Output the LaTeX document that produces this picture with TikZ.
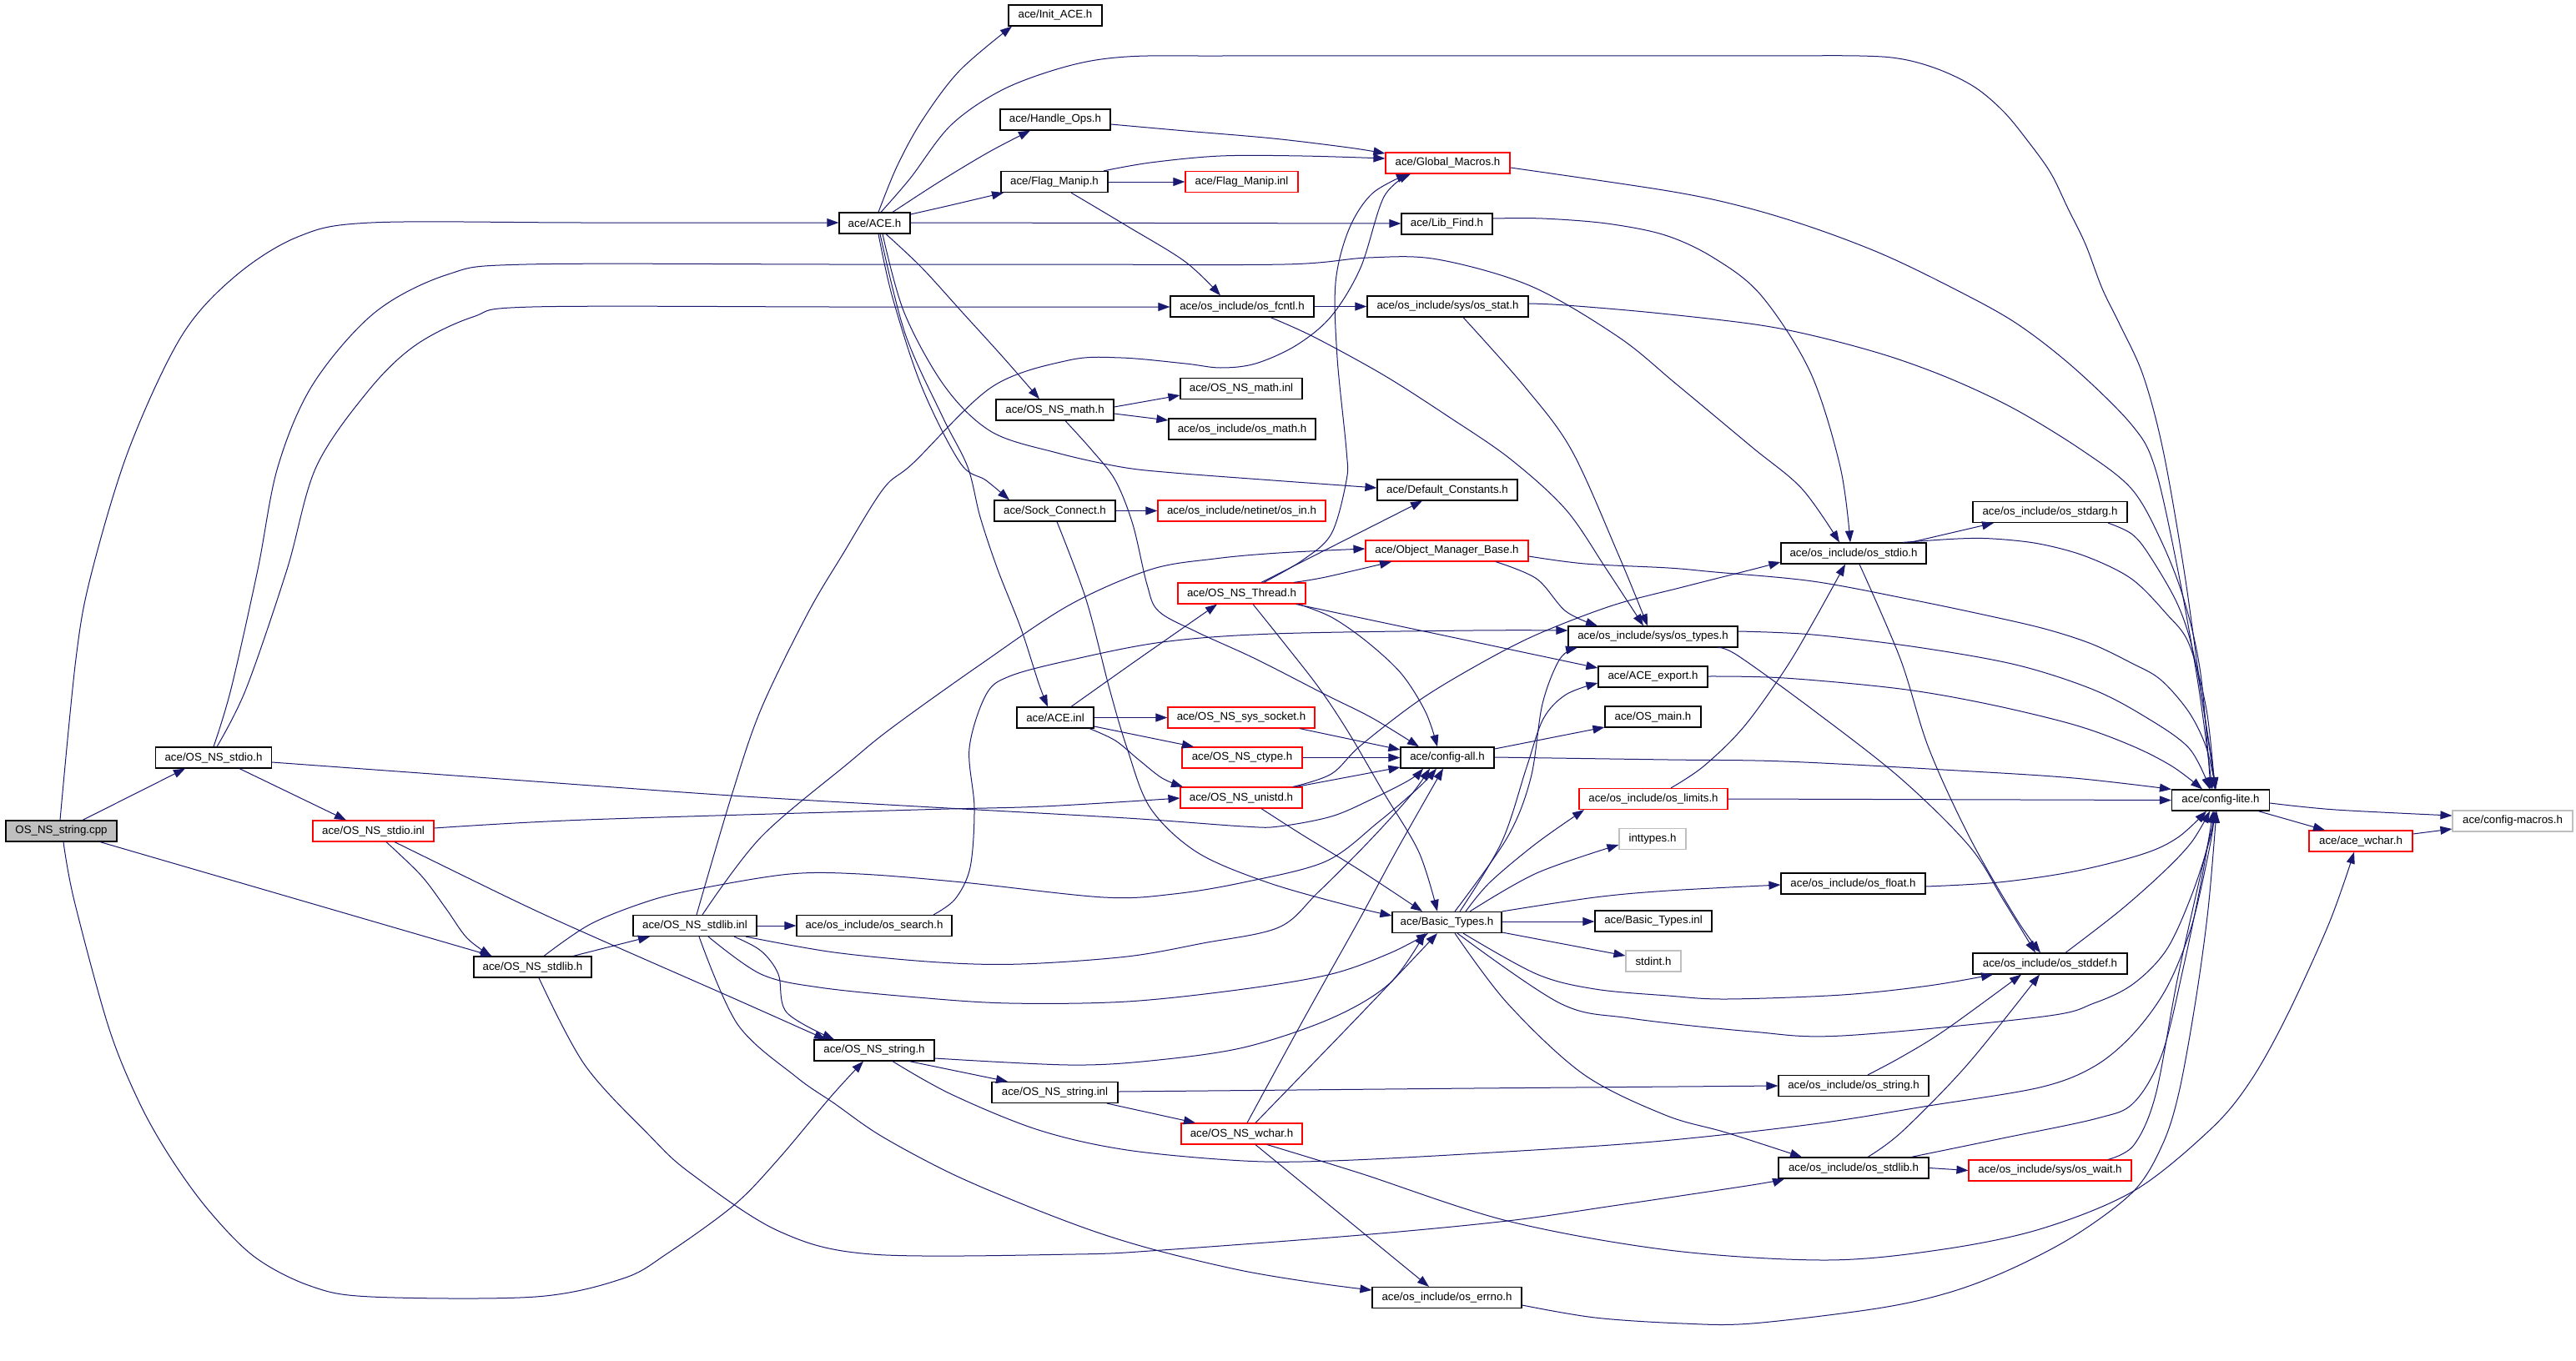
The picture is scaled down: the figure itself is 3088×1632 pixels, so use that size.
\documentclass[tikz,border=0pt]{standalone}
\usepackage{fontspec}
\setmainfont{Liberation Sans}
\usetikzlibrary{arrows.meta}
\definecolor{edgec}{RGB}{25,25,112}
\definecolor{grayb}{RGB}{191,191,191}
\begin{document}
\begin{tikzpicture}[x=0.5pt,y=-0.5pt,
  box/.style={draw=black, line width=0.6pt, inner sep=0pt, minimum height=12.5pt, font=\fontsize{6.65pt}{8pt}\selectfont},
  redbox/.style={box, draw=red},
  graybox/.style={box, draw=grayb},
  filebox/.style={box, fill=grayb},
  dep/.style={draw=edgec, line width=0.5pt, -{Triangle[length=7pt,width=5pt]}},
  sm/.style={smooth, tension=0.55}]
\fill[white] (0,0) rectangle (3088,1632);
\useasboundingbox (0,0) rectangle (3088,1632);
% ---------------- nodes ----------------
\node[filebox, minimum width=66.5pt] (cpp) at (73.5,996.5) {OS\_NS\_string.cpp};
\node[box, minimum width=69.5pt] (stdioh) at (256,908.5) {ace/OS\_NS\_stdio.h};
\node[redbox, minimum width=72.5pt] (stdioinl) at (447.5,996.5) {ace/OS\_NS\_stdio.inl};
\node[box, minimum width=70.5pt] (stdlibh) at (638.5,1159.5) {ace/OS\_NS\_stdlib.h};
\node[box, minimum width=74pt] (stdlibinl) at (833,1110) {ace/OS\_NS\_stdlib.inl};
\node[box, minimum width=42.5pt] (ace) at (1048.5,267.5) {ace/ACE.h};
\node[box, minimum width=93pt] (search) at (1048,1110) {ace/os\_include/os\_search.h};
\node[box, minimum width=72pt] (stringh) at (1048,1259.5) {ace/OS\_NS\_string.h};
\node[box, minimum width=56pt] (initace) at (1265,18.5) {ace/Init\_ACE.h};
\node[box, minimum width=66pt] (handle) at (1265,143.5) {ace/Handle\_Ops.h};
\node[box, minimum width=64pt] (flag) at (1264,218) {ace/Flag\_Manip.h};
\node[box, minimum width=70.5pt] (mathh) at (1264.5,491.5) {ace/OS\_NS\_math.h};
\node[box, minimum width=72.5pt] (sock) at (1264.5,612.5) {ace/Sock\_Connect.h};
\node[box, minimum width=46pt] (aceinl) at (1265,860.5) {ace/ACE.inl};
\node[box, minimum width=75.5pt] (stringinl) at (1264.5,1310) {ace/OS\_NS\_string.inl};
\node[redbox, minimum width=67.5pt] (flaginl) at (1488.5,218) {ace/Flag\_Manip.inl};
\node[box, minimum width=86pt] (fcntl) at (1489,367.5) {ace/os\_include/os\_fcntl.h};
\node[box, minimum width=73pt] (mathinl) at (1488,466) {ace/OS\_NS\_math.inl};
\node[box, minimum width=88pt] (osmath) at (1489,514.5) {ace/os\_include/os\_math.h};
\node[redbox, minimum width=100.5pt] (osin) at (1488.5,612.5) {ace/os\_include/netinet/os\_in.h};
\node[redbox, minimum width=76.5pt] (thread) at (1488.5,711.5) {ace/OS\_NS\_Thread.h};
\node[redbox, minimum width=88pt] (socket) at (1488,860.5) {ace/OS\_NS\_sys\_socket.h};
\node[redbox, minimum width=72pt] (ctype) at (1489,908.5) {ace/OS\_NS\_ctype.h};
\node[redbox, minimum width=73pt] (unistd) at (1488,956.5) {ace/OS\_NS\_unistd.h};
\node[redbox, minimum width=72.5pt] (wchar) at (1488.5,1359.5) {ace/OS\_NS\_wchar.h};
\node[redbox, minimum width=74.5pt] (gmacros) at (1735.5,195.5) {ace/Global\_Macros.h};
\node[box, minimum width=54.5pt] (libfind) at (1734.5,268.5) {ace/Lib\_Find.h};
\node[box, minimum width=96.5pt] (stat) at (1735.5,367.5) {ace/os\_include/sys/os\_stat.h};
\node[box, minimum width=84pt] (defconst) at (1735,587.5) {ace/Default\_Constants.h};
\node[redbox, minimum width=97.5pt] (omb) at (1734.5,660.5) {ace/Object\_Manager\_Base.h};
\node[box, minimum width=56pt] (cfgall) at (1735,908.5) {ace/config-all.h};
\node[box, minimum width=65.5pt] (basic) at (1734.5,1106) {ace/Basic\_Types.h};
\node[box, minimum width=89.5pt] (errno) at (1734.5,1556) {ace/os\_include/os\_errno.h};
\node[box, minimum width=101.5pt] (types) at (1981.5,763.5) {ace/os\_include/sys/os\_types.h};
\node[box, minimum width=65.5pt] (export) at (1981.5,811.5) {ace/ACE\_export.h};
\node[box, minimum width=57.5pt] (osmain) at (1981.5,859.5) {ace/OS\_main.h};
\node[redbox, minimum width=89pt] (limits) at (1982,958) {ace/os\_include/os\_limits.h};
\node[graybox, minimum width=40pt] (inttypes) at (1981,1006) {inttypes.h};
\node[box, minimum width=70pt] (basicinl) at (1982,1104.5) {ace/Basic\_Types.inl};
\node[graybox, minimum width=33pt] (stdint) at (1982,1152.5) {stdint.h};
\node[box, minimum width=87pt] (osstdio) at (2222,663.5) {ace/os\_include/os\_stdio.h};
\node[box, minimum width=86.5pt] (float) at (2221.5,1059.5) {ace/os\_include/os\_float.h};
\node[box, minimum width=90pt] (osstring) at (2222,1302) {ace/os\_include/os\_string.h};
\node[box, minimum width=90pt] (osstdlib) at (2222,1400.5) {ace/os\_include/os\_stdlib.h};
\node[box, minimum width=92.5pt] (stdarg) at (2457.5,614) {ace/os\_include/os\_stdarg.h};
\node[box, minimum width=92.5pt] (stddef) at (2457.5,1155.5) {ace/os\_include/os\_stddef.h};
\node[redbox, minimum width=97.5pt] (wait) at (2457.5,1403.5) {ace/os\_include/sys/os\_wait.h};
\node[box, minimum width=58.5pt] (cfglite) at (2662,959.5) {ace/config-lite.h};
\node[redbox, minimum width=62pt] (acewchar) at (2830,1008.5) {ace/ace\_wchar.h};
\node[graybox, minimum width=72pt] (macros) at (3012,984.5) {ace/config-macros.h};
% ---------------- edges ----------------
% OS_NS_string.cpp
\draw[dep] plot[sm] coordinates {(72,0|-cpp.north) (91,790) (109,690) (154,540) (217,404) (281,332) (357,284) (445,267) (700,267) (ace.west|-0,267)};
\draw[dep] (99,0|-cpp.north) -- (222,0|-stdioh.south);
\draw[dep] (120,0|-cpp.south) -- (590,0|-stdlibh.north);
\draw[dep] plot[sm] coordinates {(76,0|-cpp.south) (89,1080) (130,1231) (166,1320) (203,1386) (249,1450) (305,1507) (372,1542) (445,1555) (642,1555) (747,1533) (800,1503) (880,1445) (933,1390) (996,1315) (1035,0|-stringh.south)};
% OS_NS_stdio.h
\draw[dep] plot[sm] coordinates {(256,0|-stdioh.north) (277,826) (309,683) (333,560) (375,461) (449,375) (537,329) (631,317) (1000,317) (1270,317) (1540,317) (1640,309) (1723,311) (1835,343) (1940,404) (2010,461) (2100,536) (2160,586) (2205,0|-osstdio.north)};
\draw[dep] plot[sm] coordinates {(260,0|-stdioh.north) (295,826) (344,683) (379,560) (442,468) (498,414) (567,380) (638,368) (1000,368) (1200,368) (fcntl.west|-0,368)};
\draw[dep] (287,0|-stdioh.south) -- (415,0|-stdioinl.north);
\draw[dep] plot[sm] coordinates {(stdioh.east|-0,914) (600,934) (877,954) (1100,967) (1351,981) (1491,991) (1533,991) (1596,979) (1645,958) (1690,935) (1706,0|-cfgall.south)};
% OS_NS_stdio.inl
\draw[dep] plot[sm] coordinates {(stdioinl.east|-0,993) (702,983) (1100,971) (1250,967) (unistd.west|-0,957)};
\draw[dep] plot[sm] coordinates {(463,0|-stdioinl.south) (505,1050) (535,1090) (560,1125) (589,0|-stdlibh.north)};
\draw[dep] plot[sm] coordinates {(473,0|-stdioinl.south) (617,1080) (702,1119) (877,1196) (990,0|-stringh.north)};
% OS_NS_stdlib.h
\draw[dep] (687,0|-stdlibh.north) -- (779,0|-stdlibinl.south);
\draw[dep] plot[sm] coordinates {(646,0|-stdlibh.south) (701,1277) (779,1362) (828,1407) (933,1476) (1045,1504) (1288,1504) (1393,1499) (1631,1481) (1807,1464) (1933,1446) (2100,1421) (2139,0|-osstdlib.south)};
\draw[dep] plot[sm] coordinates {(652,0|-stdlibh.north) (708,1108) (779,1080) (842,1065) (947,1048) (1031,1048) (1154,1058) (1323,1076) (1407,1072) (1491,1058) (1589,1033) (1652,986) (1701,944) (1722,0|-cfgall.south)};
% OS_NS_stdlib.inl
\draw[dep] (stdlibinl.east) -- (search.west);
\draw[dep] plot[sm] coordinates {(835,0|-stdlibinl.north) (877,954) (912,851) (968,736) (1010,665) (1059,586) (1095,555) (1189,464) (1281,432) (1344,429) (1421,436) (1463,441) (1505,436) (1554,414) (1596,379) (1631,321) (1659,236) (1691,0|-gmacros.south)};
\draw[dep] plot[sm] coordinates {(842,0|-stdlibinl.north) (912,1004) (1017,915) (1070,872) (1175,797) (1281,726) (1379,683) (1456,670) (1533,663) (omb.west|-0,658)};
\draw[dep] plot[sm] coordinates {(880,0|-stdlibinl.south) (912,1140) (933,1168) (943,1214) (1000,0|-stringh.north)};
\draw[dep] plot[sm] coordinates {(849,0|-stdlibinl.south) (912,1168) (982,1184) (1100,1196) (1210,1203) (1351,1201) (1491,1186) (1596,1168) (1666,1143) (1712,0|-basic.south)};
\draw[dep] plot[sm] coordinates {(894,0|-stdlibinl.south) (1000,1142) (1126,1154) (1224,1156) (1351,1147) (1442,1131) (1533,1112) (1580,1070) (1640,1010) (1690,955) (1714,0|-cfgall.south)};
\draw[dep] plot[sm] coordinates {(838,0|-stdlibinl.south) (884,1228) (954,1291) (1000,1323) (1056,1362) (1140,1407) (1231,1446) (1316,1478) (1393,1501) (1491,1524) (1582,1539) (errno.west|-0,1547)};
% os_search.h
\draw[dep] plot[sm] coordinates {(1119,0|-search.north) (1145,1078) (1163,1040) (1168,969) (1162,897) (1182,833) (1210,811) (1281,792) (1393,770) (1526,760) (1765,756) (types.west|-0,756)};
% OS_NS_string.h
\draw[dep] (1090,0|-stringh.south) -- (1208,0|-stringinl.north);
\draw[dep] plot[sm] coordinates {(stringh.east|-0,1269) (1281,1277) (1379,1272) (1491,1256) (1596,1221) (1666,1179) (1708,0|-basic.south)};
\draw[dep] plot[sm] coordinates {(1070,0|-stringh.south) (1140,1312) (1245,1355) (1351,1379) (1491,1392) (1596,1392) (1772,1383) (1982,1369) (2173,1348) (2312,1326) (2445,1304) (2510,1279) (2557,1240) (2597,1185) (2627,1111) (2649,1015) (2655,0|-cfglite.south)};
% OS_NS_string.inl
\draw[dep] (stringinl.east|-0,1309) -- (1765,1305) -- (osstring.west|-0,1302);
\draw[dep] (1327,0|-stringinl.south) -- (1433,0|-wchar.north);
% OS_NS_wchar.h
\draw[dep] plot[sm] coordinates {(1495,0|-wchar.north) (1554,1238) (1589,1175) (1631,1100) (1673,1022) (1730,0|-cfgall.south)};
\draw[dep] plot[sm] coordinates {(1505,0|-wchar.north) (1610,1238) (1675,1170) (1723,0|-basic.south)};
\draw[dep] (1505,0|-wchar.south) -- (1713,0|-errno.north);
\draw[dep] plot[sm] coordinates {(1519,0|-wchar.south) (1631,1407) (1807,1464) (2000,1499) (2187,1511) (2323,1499) (2445,1474) (2558,1428) (2649,1355) (2696,1299) (2740,1221) (2792,1107) (2822,0|-acewchar.south)};
% os_errno.h
\draw[dep] plot[sm] coordinates {(errno.east|-0,1565) (1912,1580) (2017,1587) (2100,1587) (2250,1569) (2336,1550) (2410,1522) (2488,1481) (2558,1428) (2592,1373) (2612,1310) (2632,1200) (2647,1090) (2657,0|-cfglite.south)};
% Sock_Connect.h
\draw[dep] (sock.east) -- (osin.west);
\draw[dep] plot[sm] coordinates {(1267,0|-sock.south) (1302,719) (1330,826) (1351,897) (1379,969) (1435,1022) (1519,1058) (1617,1086) (basic.west|-0,1098)};
% ACE.inl
\draw[dep] plot[sm] coordinates {(1284,0|-aceinl.north) (1365,790) (1459,0|-thread.south)};
\draw[dep] (aceinl.east) -- (socket.west);
\draw[dep] (aceinl.east|-0,871) -- (1431,0|-ctype.north);
\draw[dep] plot[sm] coordinates {(1306,0|-aceinl.south) (1337,888) (1365,911) (1393,933) (1418,0|-unistd.north)};
% OS_NS_Thread.h
\draw[dep] (1512,0|-thread.north) -- (1705,0|-defconst.south);
\draw[dep] plot[sm] coordinates {(1515,0|-thread.north) (1561,672) (1596,640) (1614,576) (1614,540) (1603,429) (1601,339) (1617,275) (1645,232) (1688,0|-gmacros.south)};
\draw[dep] plot[sm] coordinates {(1551,0|-thread.north) (1589,692) (1668,0|-omb.south)};
\draw[dep] (1554,0|-thread.south) -- (export.west|-0,801);
\draw[dep] plot[sm] coordinates {(1557,0|-thread.south) (1596,740) (1638,769) (1680,808) (1709,854) (1723,0|-cfgall.north)};
\draw[dep] plot[sm] coordinates {(1502,0|-thread.south) (1540,772) (1582,826) (1617,879) (1659,951) (1701,1022) (1723,0|-basic.north)};
% OS_NS_math.h
\draw[dep] (mathh.east|-0,488) -- (mathinl.west|-0,474);
\draw[dep] (mathh.east|-0,496) -- (osmath.west|-0,504);
\draw[dep] plot[sm] coordinates {(1277,0|-mathh.south) (1309,540) (1337,576) (1358,629) (1375,701) (1389,733) (1435,758) (1505,790) (1589,833) (1645,861) (1701,0|-cfgall.north)};
% Flag_Manip.h / Handle_Ops.h
\draw[dep] (flag.east) -- (flaginl.west);
\draw[dep] plot[sm] coordinates {(1323,0|-flag.north) (1379,195) (1463,187) (1561,187) (gmacros.west|-0,190)};
\draw[dep] plot[sm] coordinates {(1284,0|-flag.south) (1351,271) (1421,314) (1463,0|-fcntl.north)};
\draw[dep] plot[sm] coordinates {(handle.east|-0,149) (1421,157) (1526,166) (1617,177) (gmacros.west|-0,184)};
% ACE.h
\draw[dep] plot[sm] coordinates {(1053,0|-ace.north) (1075,200) (1105,145) (1150,85) (1213,0|-initace.south)};
\draw[dep] plot[sm] coordinates {(1056,0|-ace.north) (1091,214) (1140,150) (1203,107) (1281,79) (1351,68) (1466,67) (1800,67) (2100,67) (2229,67) (2281,71) (2326,84) (2368,105) (2402,134) (2430,168) (2458,207) (2479,250) (2500,293) (2520,346) (2541,389) (2569,450) (2593,540) (2618,683) (2638,826) (2656,0|-cfglite.north)};
\draw[dep] plot[sm] coordinates {(1070,0|-ace.north) (1126,218) (1186,182) (1235,0|-handle.south)};
\draw[dep] plot[sm] coordinates {(ace.east|-0,257) (1140,246) (1203,0|-flag.south)};
\draw[dep] (ace.east|-0,267) -- (libfind.west|-0,268);
\draw[dep] plot[sm] coordinates {(1062,0|-ace.south) (1105,321) (1154,375) (1203,429) (1246,0|-mathh.north)};
\draw[dep] plot[sm] coordinates {(1058,0|-ace.south) (1084,375) (1133,464) (1189,518) (1267,543) (1344,560) (1407,567) (1526,576) (defconst.west|-0,585)};
\draw[dep] plot[sm] coordinates {(1053,0|-ace.south) (1070,357) (1105,464) (1151,555) (1182,576) (1210,0|-sock.north)};
\draw[dep] plot[sm] coordinates {(1055,0|-ace.south) (1085,400) (1130,500) (1160,560) (1175,620) (1196,683) (1224,754) (1245,819) (1256,0|-aceinl.north)};
% os_fcntl.h / os_stat.h
\draw[dep] (fcntl.east) -- (stat.west);
\draw[dep] plot[sm] coordinates {(1523,0|-fcntl.south) (1575,404) (1659,450) (1737,500) (1810,550) (1877,611) (1926,683) (1970,0|-types.north)};
\draw[dep] plot[sm] coordinates {(1754,0|-stat.south) (1828,464) (1884,540) (1940,665) (1975,0|-types.north)};
\draw[dep] plot[sm] coordinates {(stat.east|-0,364) (1877,366) (1982,375) (2104,389) (2180,404) (2264,427) (2340,455) (2416,491) (2496,540) (2555,586) (2590,647) (2618,719) (2638,808) (2650,0|-cfglite.north)};
% Global_Macros.h / Lib_Find.h
\draw[dep] plot[sm] coordinates {(gmacros.east|-0,201) (2000,229) (2090,248) (2173,273) (2257,305) (2340,345) (2416,387) (2486,441) (2555,509) (2583,560) (2610,680) (2635,820) (2652,0|-cfglite.north)};
\draw[dep] plot[sm] coordinates {(libfind.east|-0,262) (1849,262) (1926,268) (1996,282) (2054,309) (2111,354) (2170,446) (2206,560) (2218,0|-osstdio.north)};
% Object_Manager_Base.h
\draw[dep] plot[sm] coordinates {(1793,0|-omb.south) (1842,694) (1877,733) (1915,0|-types.north)};
\draw[dep] plot[sm] coordinates {(omb.east|-0,667) (1900,676) (2000,681) (2056,686) (2173,697) (2291,719) (2382,738) (2451,754) (2507,772) (2555,795) (2590,815) (2624,854) (2645,897) (2656,0|-cfglite.north)};
% os_types.h / ACE_export.h
\draw[dep] plot[sm] coordinates {(types.east|-0,757) (2173,761) (2298,776) (2416,797) (2507,826) (2569,858) (2624,897) (2649,0|-cfglite.north)};
\draw[dep] plot[sm] coordinates {(2059,0|-types.south) (2083,786) (2173,851) (2278,933) (2361,1015) (2402,1080) (2440,0|-stddef.north)};
\draw[dep] plot[sm] coordinates {(export.east|-0,811) (2139,813) (2278,826) (2382,844) (2486,869) (2555,894) (2604,919) (2640,0|-cfglite.north)};
% config-all.h
\draw[dep] (cfgall.east|-0,898) -- (osmain.west|-0,872);
\draw[dep] plot[sm] coordinates {(cfgall.east|-0,908) (2000,911) (2139,913) (2347,924) (2486,933) (cfglite.north west)};
% os_limits.h
\draw[dep] (limits.east) -- (cfglite.west);
\draw[dep] plot[sm] coordinates {(2003,0|-limits.north) (2042,919) (2090,872) (2139,804) (2173,747) (2212,0|-osstdio.south)};
% Basic_Types.h
\draw[dep] plot[sm] coordinates {(1744,0|-basic.north) (1807,1004) (1835,933) (1849,844) (1870,790) (1891,0|-types.south)};
\draw[dep] plot[sm] coordinates {(1750,0|-basic.north) (1800,1010) (1830,920) (1850,862) (1877,833) (export.west|-0,819)};
\draw[dep] plot[sm] coordinates {(1757,0|-basic.north) (1786,1058) (1842,1011) (1899,0|-limits.south)};
\draw[dep] plot[sm] coordinates {(1762,0|-basic.north) (1842,1047) (inttypes.west|-0,1013)};
\draw[dep] (basic.east|-0,1105) -- (basicinl.west|-0,1105);
\draw[dep] (basic.east|-0,1118) -- (stdint.west|-0,1146);
\draw[dep] plot[sm] coordinates {(basic.north east) (1912,1076) (2000,1068) (float.west|-0,1061)};
\draw[dep] plot[sm] coordinates {(1754,0|-basic.south) (1842,1168) (1912,1186) (2000,1194) (2069,1198) (2208,1193) (2312,1182) (2389,0|-stddef.south)};
\draw[dep] plot[sm] coordinates {(1747,0|-basic.south) (1870,1203) (1954,1221) (2100,1237) (2208,1242) (2449,1219) (2510,1203) (2557,1180) (2597,1139) (2627,1074) (2649,1006) (2654,0|-cfglite.south)};
\draw[dep] plot[sm] coordinates {(1744,0|-basic.south) (1807,1203) (1898,1288) (1996,1337) (2069,1358) (2160,0|-osstdlib.north)};
% os_float.h, os_stddef.h, os_string.h, os_stdlib.h, os_wait.h
\draw[dep] plot[sm] coordinates {(float.east|-0,1063) (2396,1058) (2486,1045) (2569,1024) (2611,1004) (2645,0|-cfglite.south)};
\draw[dep] plot[sm] coordinates {(2476,0|-stddef.north) (2540,1093) (2592,1047) (2627,1010) (2649,0|-cfglite.south)};
\draw[dep] plot[sm] coordinates {(2239,0|-osstring.north) (2280,1267) (2332,1235) (2423,0|-stddef.south)};
\draw[dep] plot[sm] coordinates {(2239,0|-osstdlib.north) (2280,1357) (2358,1277) (2445,0|-stddef.south)};
\draw[dep] (osstdlib.east) -- (wait.west);
\draw[dep] plot[sm] coordinates {(2291,0|-osstdlib.north) (2400,1365) (2514,1341) (2558,1322) (2592,1263) (2618,1157) (2640,1050) (2653,0|-cfglite.south)};
\draw[dep] plot[sm] coordinates {(2527,0|-wait.north) (2558,1373) (2584,1313) (2610,1175) (2640,1040) (2657,0|-cfglite.south)};
% os_stdio.h, os_stdarg.h
\draw[dep] (2290,0|-osstdio.north) -- (2390,0|-stdarg.south);
\draw[dep] plot[sm] coordinates {(2281,0|-osstdio.north) (2347,646) (2389,646) (2444,652) (2500,667) (2555,694) (2597,736) (2624,772) (2645,851) (2655,0|-cfglite.north)};
\draw[dep] plot[sm] coordinates {(2229,0|-osstdio.south) (2278,790) (2312,897) (2361,1004) (2416,1100) (2446,0|-stddef.north)};
\draw[dep] plot[sm] coordinates {(2527,0|-stdarg.south) (2555,640) (2576,665) (2611,726) (2631,790) (2649,897) (2656,0|-cfglite.north)};
% config-lite.h, ace_wchar.h
\draw[dep] plot[sm] coordinates {(cfglite.east|-0,963) (2800,971) (macros.west|-0,978)};
\draw[dep] (2707,0|-cfglite.south) -- (2787,0|-acewchar.north);
\draw[dep] (acewchar.east|-0,1000) -- (macros.west|-0,994);
% OS_NS_unistd.h, sys_socket, ctype
\draw[dep] (1554,0|-unistd.north) -- (cfgall.west|-0,920);
\draw[dep] plot[sm] coordinates {(1550,0|-unistd.north) (1596,928) (1631,894) (1701,840) (1772,797) (1842,761) (1933,726) (2017,704) (2100,683) (osstdio.west|-0,674)};
\draw[dep] plot[sm] coordinates {(1512,0|-unistd.south) (1561,1001) (1631,1044) (1705,0|-basic.north)};
\draw[dep] (1558,0|-socket.south) -- (cfgall.west|-0,899);
\draw[dep] (ctype.east) -- (cfgall.west);
\end{tikzpicture}
\end{document}
